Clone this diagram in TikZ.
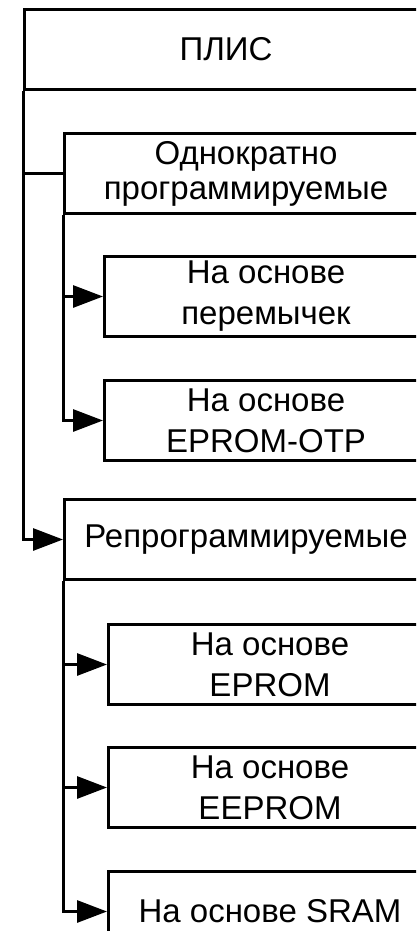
\documentclass[tikz,border=0pt]{standalone}
\usepackage{fontspec}
\setmainfont{Liberation Sans}
\usetikzlibrary{arrows.meta,positioning}

\begin{document}
\begin{tikzpicture}[
  x=1pt,y=-1pt,
  line width=3pt,
  head/.style={draw,align=center,anchor=north west,minimum height=80pt,inner sep=0pt,font=\fontsize{33}{35}\selectfont},
  leaf/.style={draw,align=center,minimum width=323pt,minimum height=80pt,inner sep=0pt,font=\fontsize{33}{41}\selectfont},
  arrow/.style={-{Triangle[length=30pt,width=22pt]}}
]
\useasboundingbox (0,0) rectangle (416,931);
\clip (0,0) rectangle (416,931);
\node[head,minimum width=403pt] (plis) at (23,8) {ПЛИС};
\node[head,minimum width=363pt,below right=41pt and 40pt of plis.south west] (once) {Однократно\\программируемые};
\node[leaf,below right=40pt and 40pt of once.south west] (fuse) {На основе\\перемычек};
\node[leaf,below=41pt of fuse] (otp) {На основе\\EPROM-OTP};
\node[head,minimum width=363pt,below=283pt of once.south west,anchor=north west] (reprog) {Репрограммируемые};
\node[leaf,below right=42pt and 44pt of reprog.south west] (eprom) {На основе\\EPROM};
\node[leaf,below=40pt of eprom] (eeprom) {На основе\\EEPROM};
\node[leaf,below=41pt of eeprom] (sram) {На основе SRAM};
\draw (plis.south west) |- (once.west);
\draw[arrow] (plis.south west) |- (reprog.west);
\draw[arrow] (once.south west) |- (fuse.west);
\draw[arrow] (once.south west) |- (otp.west);
\draw[arrow] (reprog.south west) |- (eprom.west);
\draw[arrow] (reprog.south west) |- (eeprom.west);
\draw[arrow] (reprog.south west) |- (sram.west);
\end{tikzpicture}
\end{document}
